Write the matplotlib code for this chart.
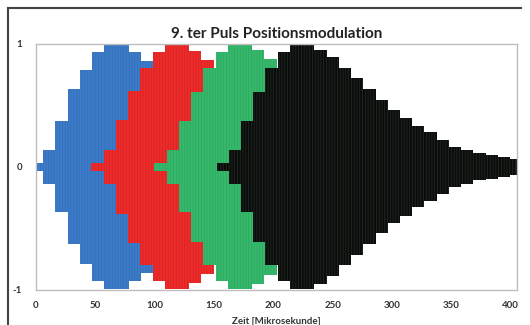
import matplotlib
matplotlib.use("Agg")
import matplotlib.pyplot as plt
from matplotlib.lines import Line2D
import numpy as np

# envelope of each pulse (one value per step)
step_us = 10.3
blue_start = -4.3
blue_amp = [0.03, 0.14, 0.37, 0.63, 0.79, 0.93, 0.99, 0.99, 0.93, 0.86, 0.78]
red_start = 46.7
red_amp = [0.03, 0.14, 0.38, 0.62, 0.80, 0.93, 0.99, 0.99, 0.94, 0.87, 0.79]
green_start = 99.7
green_amp = [0.03, 0.14, 0.37, 0.61, 0.80, 0.93, 0.99, 0.99, 0.95, 0.88, 0.80]
black_start = 152.1
black_amp = [0.03, 0.14, 0.37, 0.61, 0.80, 0.93, 0.99, 0.99, 0.95, 0.89, 0.80,
             0.72, 0.63, 0.54, 0.46, 0.40, 0.33, 0.28, 0.22, 0.16, 0.14, 0.11,
             0.10, 0.08, 0.065]

xticks = [0, 50, 100, 150, 200, 250, 300, 350, 400]
yticks = [-1, 0, 1]

series = [
    (blue_start, blue_amp, "#3d7bc9", "#3470bb"),
    (red_start, red_amp, "#ee2b2b", "#d82424"),
    (green_start, green_amp, "#36b96b", "#2ea862"),
    (black_start, black_amp, "#0b0b0b", "#1f2a22"),
]

plt.rcParams['font.family'] = ['Lato', 'DejaVu Sans']
plt.rcParams['hatch.linewidth'] = 0.6
plt.rcParams['axes.unicode_minus'] = False

fig = plt.figure(figsize=(5.3, 3.25), dpi=100)
ax = fig.add_axes([0.068, 0.108, 0.907, 0.757])

for start, amp, col, hcol in series:
    edges = start + step_us * np.arange(len(amp) + 1)
    a = np.array(amp + [amp[-1]])
    ax.fill_between(edges, -a, a, step='post', facecolor=col,
                    edgecolor=hcol, hatch='||||||', linewidth=0)

ax.set_xlim(0, 405)
ax.set_ylim(-1, 1)
ax.set_xticks(xticks)
ax.set_yticks(yticks)
ax.tick_params(length=0, labelsize=7, colors="#333333")
ax.tick_params(axis='x', pad=8)
ax.tick_params(axis='y', pad=10)
for lab in ax.get_xticklabels() + ax.get_yticklabels():
    lab.set_fontweight('bold')
for sp in ax.spines.values():
    sp.set_color("#bdbdbd")
    sp.set_linewidth(1)

ax.set_title("9. ter Puls Positionsmodulation", fontsize=11, fontweight='bold',
             color="#222222", pad=4)
ax.set_xlabel("Zeit [Mikrosekunde]", fontsize=7, fontweight='bold',
              color="#333333", labelpad=5)

# outer chart frame (top and left edge)
fig.add_artist(Line2D([0.015, 0.983], [0.975, 0.975], color="#444444", lw=1.5))
fig.add_artist(Line2D([0.015, 0.015], [0.0, 0.975], color="#444444", lw=1.5))

plt.savefig("out.png", dpi=100)
